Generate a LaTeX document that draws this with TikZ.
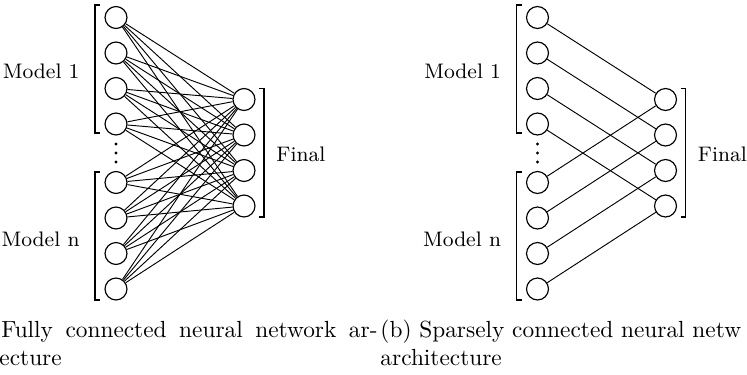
\documentclass[tikz,border=0pt]{standalone}
\usepackage{fontspec}
\begin{document}
\begin{tikzpicture}[x=0.4286pt,y=-0.4286pt,
  neuron/.style={circle,draw,line width=0.5pt,minimum size=9.4pt,inner sep=0pt},
  link/.style={line width=0.4pt},
  brack/.style={line width=0.5pt},
  lbl/.style={font=\fontsize{9}{11}\selectfont,inner sep=0pt},
  captext/.style={font=\fontsize{10}{12}\selectfont,inner sep=0pt,anchor=base west}]
\useasboundingbox (0,0) rectangle (747,374);
\clip (0,0) rectangle (747,374);

% two networks side by side
\foreach \p/\dx in {a/0,b/421.5}{
  % input neurons of the two models
  \foreach \y [count=\i] in {17.5,53,88.5,124,182.5,218,253.5,289}
    \node[neuron] (\p-in\i) at ({\dx+116},\y) {};
  % final layer
  \foreach \y [count=\j] in {99.5,135,170.5,206}
    \node[neuron] (\p-out\j) at ({\dx+244},\y) {};
  % vertical ellipsis between the models
  \foreach \y in {144,153,162}
    \fill ({\dx+116},\y) circle[radius=0.7pt];
  % brackets
  \draw[brack] ({\dx+100},5) -- ({\dx+95},5) -- ({\dx+95},133) -- ({\dx+100},133);
  \draw[brack] ({\dx+100},172) -- ({\dx+95},172) -- ({\dx+95},300) -- ({\dx+100},300);
  \draw[brack] ({\dx+259},88.5) -- ({\dx+264},88.5) -- ({\dx+264},217) -- ({\dx+259},217);
  % labels
  \node[lbl,anchor=east] (\p-m1) at ({\dx+80},71) {Model 1};
  \node[lbl,anchor=east] (\p-mn) at ({\dx+80},239) {Model n};
  \node[lbl,anchor=west] (\p-fin) at ({\dx+276},154) {Final};
}

% fully connected
\foreach \i in {1,...,8}
  \foreach \j in {1,...,4}
    \draw[link] (a-in\i) -- (a-out\j);

% sparsely connected
\foreach \j in {1,...,4}{
  \pgfmathtruncatemacro{\k}{\j+4}
  \draw[link] (b-in\j) -- (b-out\j);
  \draw[link] (b-in\k) -- (b-out\j);
}

% captions
\node[captext] (capa1) at (1,337) {\makebox[161.2pt][s]{Fully connected neural network ar-}};
\node[captext] (capa2) at (-1,365) {ecture};
\node[captext] (capb1) at (380,337) {(b) Sparsely connected neural netw};
\node[captext] (capb2) at (380,365) {architecture};
\end{tikzpicture}
\end{document}
